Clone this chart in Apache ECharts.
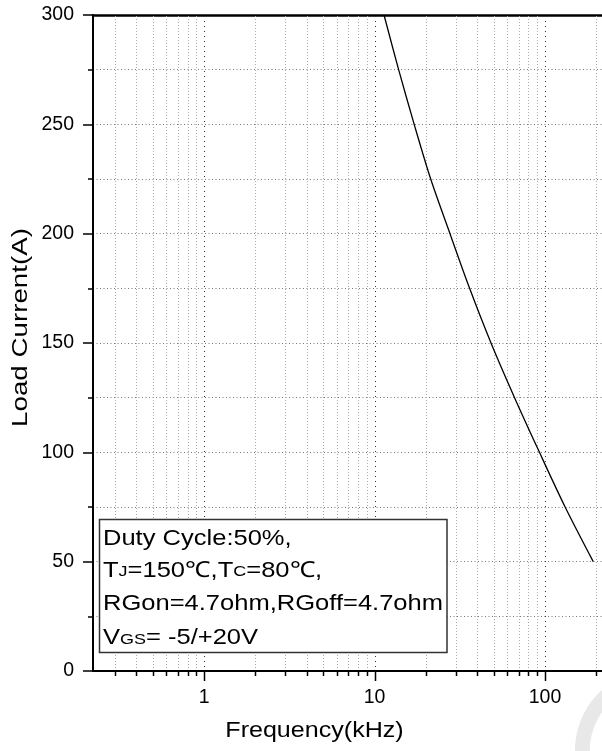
<!DOCTYPE html>
<html><head><meta charset="utf-8">
<script src="https://cdn.jsdelivr.net/npm/echarts@6/dist/echarts.min.js"></script>
<style>html,body{margin:0;padding:0;background:#fff}#c{width:602px;height:751px}</style>
</head><body><div id="c"></div>
<script>
// ---- data ----
const freqKHz      = [11.37, 13.85, 17.09, 21.36, 27.72, 36.13, 48.24, 66.32, 92.85, 131.3, 192.0];
const loadCurrentA = [300,   275,   250,   225,   200,   175,   150,   125,   100,   75,    50];
const xMajorTicks  = [1, 10, 100];
const xTickLabels  = ['1', '10', '100'];
const xMinorTicks  = [0.3,0.4,0.5,0.6,0.7,0.8,0.9, 2,3,4,5,6,7,8,9, 20,30,40,50,60,70,80,90, 200];
const yTickStep    = 50;
const xRange       = [0.223, 222];
const yRange       = [0, 300];
const xTitle = 'Frequency(kHz)';
const yTitle = 'Load Current(A)';
const noteLines = [
  'Duty Cycle:50%,',
  'T{s|J}=150℃,T{s|C}=80℃,',
  'RGon=4.7ohm,RGoff=4.7ohm',
  'V{s|GS}= -5/+20V'
];

const FONT = 'Arial, "Liberation Sans", sans-serif';
const chart = echarts.init(document.getElementById('c'), null, {renderer: 'canvas'});

const tickData = xMajorTicks.map(v => [v, 1]).concat(xMinorTicks.map(v => [v, 0]));

const noteY = [539.2, 570.5, 604.2, 638.2];

chart.setOption({
  animation: false,
  backgroundColor: '#fff',
  grid: {left: 93, top: 15, width: 511, height: 656, outerBoundsMode: 'none', containLabel: false},
  xAxis: [{
    type: 'log', logBase: 10, min: xRange[0], max: xRange[1],
    axisLine: {show: true, onZero: false, lineStyle: {color: '#000', width: 2}},
    axisTick: {show: false}, minorTick: {show: false},
    splitLine: {show: false},
    axisLabel: {
      show: true, fontSize: 19.5, fontFamily: FONT, color: '#000', margin: 17,
      showMinLabel: false, showMaxLabel: false,
      formatter: function (v) {
        for (let i = 0; i < xMajorTicks.length; i++) {
          if (Math.abs(v - xMajorTicks[i]) / xMajorTicks[i] < 1e-6) return xTickLabels[i];
        }
        return '';
      }
    }
  }, {
    type: 'log', logBase: 10, min: xRange[0], max: xRange[1], position: 'top',
    axisLine: {show: true, onZero: false, lineStyle: {color: '#000', width: 2.5}},
    axisTick: {show: false}, axisLabel: {show: false}, splitLine: {show: false}
  }],
  yAxis: {
    type: 'value', min: yRange[0], max: yRange[1], interval: yTickStep,
    axisLine: {show: true, onZero: false, lineStyle: {color: '#000', width: 2}},
    axisTick: {show: true, length: 10, lineStyle: {color: '#000', width: 1.5}},
    minorTick: {show: true, splitNumber: 2, length: 5, lineStyle: {color: '#000', width: 1.5}},
    splitLine: {show: true, lineStyle: {color: '#777', width: 1, type: [1, 2.5]}},
    minorSplitLine: {show: true, lineStyle: {color: '#777', width: 1, type: [1, 2.5]}},
    axisLabel: {fontSize: 19.5, fontFamily: FONT, color: '#000', margin: 19}
  },
  series: [{
    type: 'custom',
    xAxisIndex: 0, yAxisIndex: 0,
    silent: true, z: 1,
    data: tickData,
    renderItem: function (params, api) {
      const v = api.value(0), major = api.value(1) === 1;
      const bottom = api.coord([v, yRange[0]]);
      const top = api.coord([v, yRange[1]]);
      const x = Math.round(bottom[0]) + 0.5;
      return {type: 'group', children: [
        {type: 'line', shape: {x1: x, y1: top[1] + 1, x2: x, y2: bottom[1] - 1},
         style: {stroke: major ? '#333' : '#aaa', lineWidth: 1, lineDash: major ? [1, 4] : [1, 2]}},
        {type: 'line', shape: {x1: x, y1: bottom[1], x2: x, y2: bottom[1] + (major ? 10 : 5)},
         style: {stroke: '#000', lineWidth: 1.5}}
      ]};
    }
  }, {
    type: 'line', z: 3,
    data: freqKHz.map((f, i) => [f, loadCurrentA[i]]),
    showSymbol: false, symbol: 'none',
    smooth: 0.3,
    lineStyle: {color: '#000', width: 1.3}
  }],
  graphic: [
    {type: 'arc', z: -1, shape: {cx: 655, cy: 750, r: 72.5, startAngle: Math.PI * 0.9, endAngle: Math.PI * 1.5},
     style: {stroke: '#e8e8e8', lineWidth: 15, fill: null}},
    {type: 'rect', z: 100, shape: {x: 99.5, y: 519.5, width: 347.5, height: 133},
     style: {fill: '#fff', stroke: '#333', lineWidth: 1.5}},
  ].concat(noteLines.map((t, i) => ({
    type: 'text', z: 101, x: 103, y: noteY[i], scaleX: 1.16,
    style: {text: t, fontSize: 22, lineHeight: 22, fontFamily: FONT, fill: '#000', align: 'left', verticalAlign: 'middle',
            rich: {s: {fontSize: 15.5, lineHeight: 15.5, fontFamily: FONT, fill: '#000', verticalAlign: 'bottom', padding: [0, 0, 1.3, 0]}}}
  }))).concat([
    {type: 'text', z: 101, x: 314.5, y: 731, scaleX: 1.14,
     style: {text: xTitle, fontSize: 22, fontFamily: FONT, fill: '#000', align: 'center', verticalAlign: 'middle'}},
    {type: 'text', z: 101, x: 20.5, y: 327.5, rotation: Math.PI / 2, scaleX: 1.26,
     style: {text: yTitle, fontSize: 22, fontFamily: FONT, fill: '#000', align: 'center', verticalAlign: 'middle'}}
  ])
});
</script></body></html>
